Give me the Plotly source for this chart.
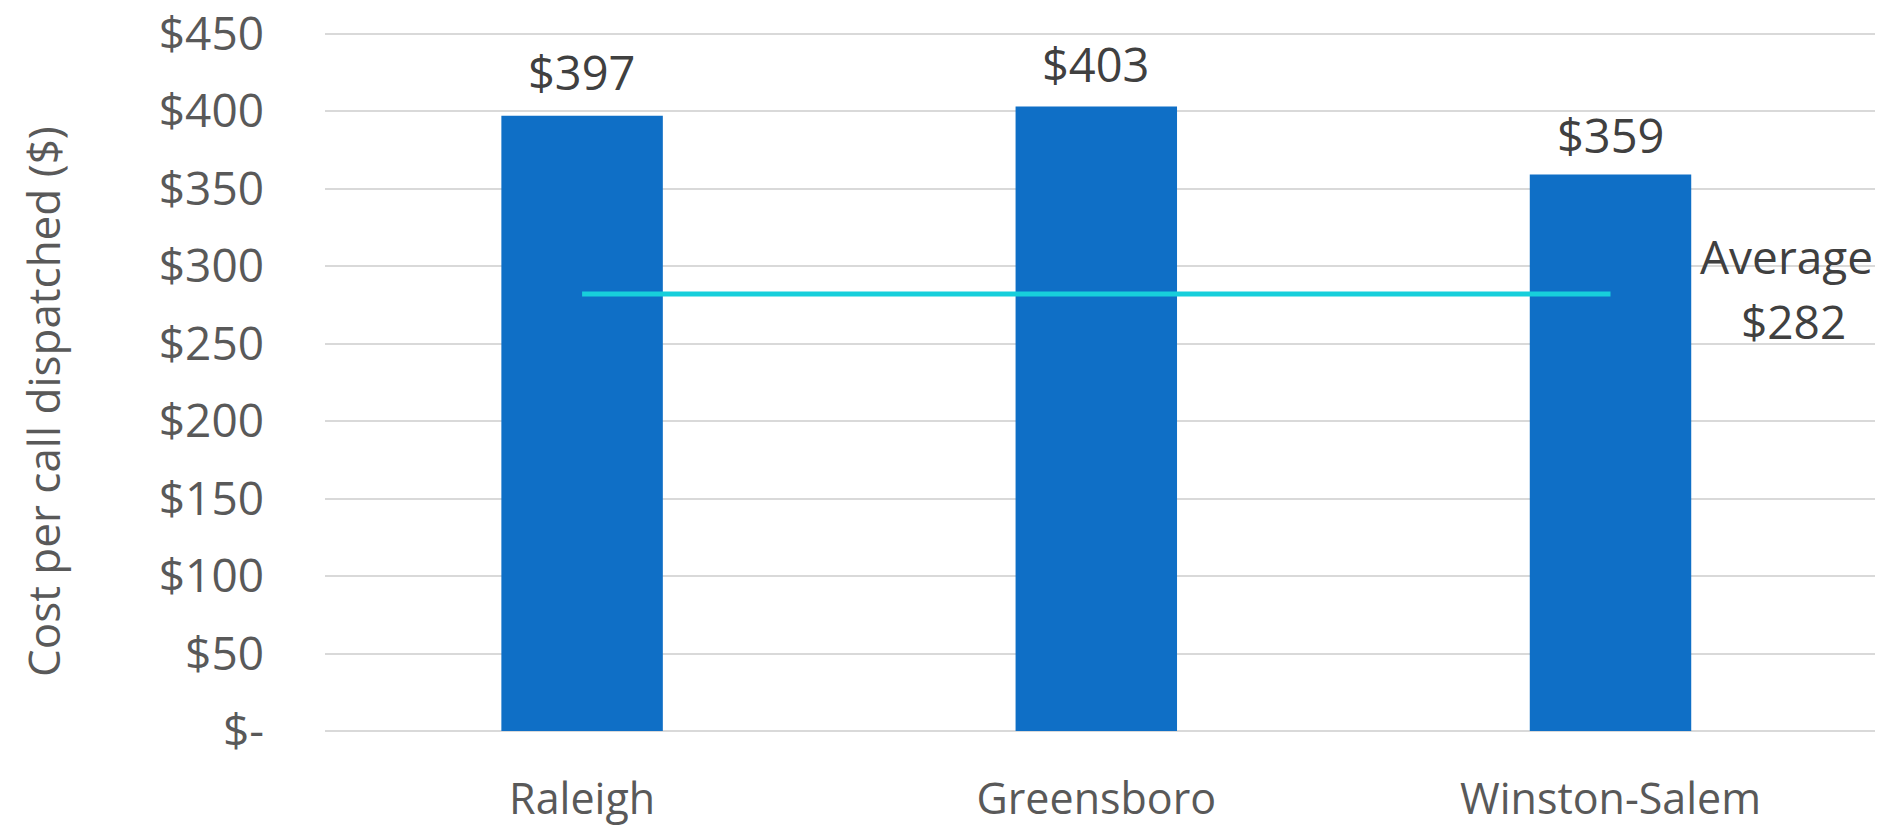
import plotly.graph_objects as go

cities = ["Raleigh", "Greensboro", "Winston-Salem"]
cost = [397, 403, 359]
average = 282
bar_labels = ["$397", "$403", "$359"]
avg_title = "Average"
avg_value = "$282"
tick_vals = [0, 50, 100, 150, 200, 250, 300, 350, 400, 450]
tick_text = ["$-", "$50", "$100", "$150", "$200", "$250", "$300", "$350", "$400", "$450"]
y_title = "Cost per call dispatched ($)"

fig = go.Figure()
fig.add_trace(go.Bar(x=cities, y=cost, marker=dict(color="#0F6FC6", line=dict(width=0)),
                     hoverinfo="x+y", showlegend=False))
fig.add_trace(go.Scatter(x=[cities[0], cities[-1]], y=[average, average], mode="lines",
                         line=dict(color="#17CFDB", width=5), showlegend=False))

for c, v, t, ys in zip(cities, cost, bar_labels, [44, 42, 40]):
    fig.add_annotation(x=c, y=v, text=t, showarrow=False, yanchor="middle", yshift=ys,
                       font=dict(family="Open Sans", size=47, color="#404040"))

fig.add_annotation(x=cities[-1], y=average, text=avg_title, showarrow=False,
                   xanchor="center", yanchor="middle", xshift=176, yshift=38,
                   font=dict(family="Open Sans", size=46, color="#404040"))
fig.add_annotation(x=cities[-1], y=average, text=avg_value, showarrow=False,
                   xanchor="center", yanchor="middle", xshift=183, yshift=-27,
                   font=dict(family="Open Sans", size=46, color="#404040"))

# y-axis title placed as a rotated annotation
fig.add_annotation(xref="paper", yref="paper", x=-0.182, y=0.472, text=y_title,
                   textangle=-90, showarrow=False, xanchor="center", yanchor="middle",
                   font=dict(family="Open Sans", size=44, color="#595959"))

fig.update_layout(
    width=1893, height=827,
    margin=dict(l=325, r=18, t=32, b=96, autoexpand=False),
    plot_bgcolor="white", paper_bgcolor="white",
    bargap=0.686,
    font=dict(family="Open Sans", color="#595959"),
)
fig.update_xaxes(showgrid=False, showline=False, zeroline=False, ticks="",
                 automargin=False,
                 tickfont=dict(family="Open Sans", size=43, color="#595959"),
                 ticklabelstandoff=39)
fig.update_yaxes(range=[0, 451], tickvals=tick_vals, ticktext=tick_text,
                 automargin=False, ticklabeloverflow="allow",
                 showgrid=True, gridcolor="#D9D9D9", gridwidth=2,
                 zeroline=True, zerolinecolor="#D9D9D9", zerolinewidth=2,
                 showline=False, ticks="",
                 tickfont=dict(family="Open Sans", size=46, color="#595959"),
                 ticklabelstandoff=60)

fig.write_html("out.html", config={"displayModeBar": False},
               post_script="document.body.style.margin='0';")
